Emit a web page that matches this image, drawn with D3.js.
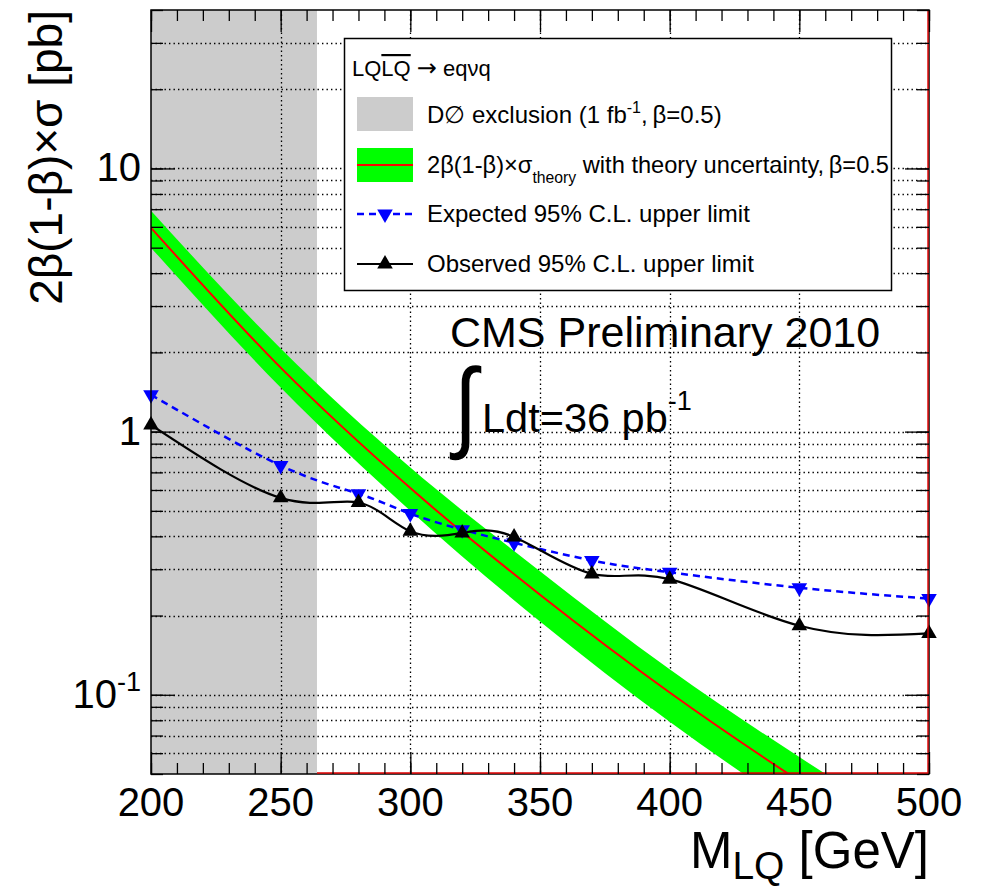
<!DOCTYPE html>
<html>
<head>
<meta charset="utf-8">
<script src="https://cdn.jsdelivr.net/npm/d3@7"></script>
<style>
  body { margin: 0; background: #fff; }
  svg { display: block; }
  text { font-family: "Liberation Sans", Arial, Helvetica, sans-serif; fill: #000; }
</style>
</head>
<body>
<script>
// Leptoquark mass points (GeV) and 95% C.L. upper limits on 2β(1-β)×σ (pb)
const massPoints    = [200, 250, 280, 300, 320, 340, 370, 400, 450, 500];
const expectedLimit = [1.38, 0.743, 0.581, 0.488, 0.424, 0.378, 0.324, 0.292, 0.255, 0.232];
const observedLimit = [1.06, 0.560, 0.538, 0.418, 0.412, 0.398, 0.288, 0.275, 0.183, 0.171];

// Theory prediction (β = 0.5) with its uncertainty band
const theoryMass = [200, 250, 300, 350, 400, 450, 500];
const theoryXsec = [5.95, 1.75, 0.61, 0.24, 0.102, 0.047, 0.023];
const theoryUp   = [6.9, 2.07, 0.73, 0.295, 0.125, 0.058, 0.0285];
const theoryDown = [5.0, 1.47, 0.50, 0.19, 0.079, 0.036, 0.0175];

// DØ excluded mass range (GeV)
const d0Exclusion = [200, 264];

// Axis ranges and labelled ticks
const xDomain = [200, 500];
const yDomain = [0.05, 40];
const xTickLabels = [200, 250, 300, 350, 400, 450, 500];
const yTickLabels = [
  { v: 10,  base: "10", sup: "" },
  { v: 1,   base: "1",  sup: "" },
  { v: 0.1, base: "10", sup: "-1" }
];

const W = 982, H = 892;
const frame = { left: 151, right: 929, top: 10, bottom: 774 };

const svg = d3.select("body").append("svg")
  .attr("width", W).attr("height", H);

const x = d3.scaleLinear().domain(xDomain).range([frame.left, frame.right]);
const y = d3.scaleLog().domain(yDomain).range([frame.bottom, frame.top]);

svg.append("defs").append("clipPath").attr("id", "plotClip")
  .append("rect")
  .attr("x", frame.left).attr("y", frame.top)
  .attr("width", frame.right - frame.left).attr("height", frame.bottom - frame.top);

const plot = svg.append("g").attr("clip-path", "url(#plotClip)");

// DØ exclusion region
plot.append("rect")
  .attr("x", x(d0Exclusion[0])).attr("y", frame.top)
  .attr("width", x(d0Exclusion[1]) - x(d0Exclusion[0]))
  .attr("height", frame.bottom - frame.top)
  .attr("fill", "#cccccc");

// Dotted grid
const yGridVals = y.ticks().filter(v => v > yDomain[0] && v < yDomain[1]);
const xGridVals = xTickLabels.filter(v => v > xDomain[0] && v < xDomain[1]);
const grid = plot.append("g").attr("stroke", "#000").attr("stroke-width", 1.3)
  .attr("stroke-dasharray", "1.4,3.1");
grid.selectAll("line.h").data(yGridVals).join("line").attr("class", "h")
  .attr("x1", frame.left).attr("x2", frame.right)
  .attr("y1", d => Math.round(y(d)) + 0.5).attr("y2", d => Math.round(y(d)) + 0.5);
grid.selectAll("line.v").data(xGridVals).join("line").attr("class", "v")
  .attr("y1", frame.top).attr("y2", frame.bottom)
  .attr("x1", d => Math.round(x(d)) + 0.5).attr("x2", d => Math.round(x(d)) + 0.5);

// Theory band and central curve
const theory = theoryMass.map((m, i) => ({ m, c: theoryXsec[i], up: theoryUp[i], dn: theoryDown[i] }));
plot.append("path").datum(theory)
  .attr("fill", "#00ff00")
  .attr("d", d3.area().curve(d3.curveMonotoneX)
    .x(d => x(d.m)).y0(d => y(d.dn)).y1(d => y(d.up)));
plot.append("path").datum(theory)
  .attr("fill", "none").attr("stroke", "#ff0000").attr("stroke-width", 2)
  .attr("d", d3.line().curve(d3.curveMonotoneX).x(d => x(d.m)).y(d => y(d.c)));

// Expected and observed limits
const expected = massPoints.map((m, i) => ({ m, v: expectedLimit[i] }));
const observed = massPoints.map((m, i) => ({ m, v: observedLimit[i] }));
const limitLine = d3.line().curve(d3.curveNatural).x(d => x(d.m)).y(d => y(d.v));

plot.append("path").datum(expected)
  .attr("fill", "none").attr("stroke", "#0000ff").attr("stroke-width", 2.5)
  .attr("stroke-dasharray", "7,5").attr("d", limitLine);
plot.append("path").datum(observed)
  .attr("fill", "none").attr("stroke", "#000").attr("stroke-width", 2.2)
  .attr("d", limitLine);

const tri = d3.symbol().type(d3.symbolTriangle).size(105);
svg.append("g").selectAll("path").data(expected).join("path")
  .attr("fill", "#0000ff")
  .attr("transform", d => `translate(${x(d.m)},${y(d.v)}) rotate(180)`)
  .attr("d", tri);
svg.append("g").selectAll("path").data(observed).join("path")
  .attr("fill", "#000")
  .attr("transform", d => `translate(${x(d.m)},${y(d.v)})`)
  .attr("d", tri);

// Frame
svg.append("rect")
  .attr("x", frame.left).attr("y", frame.top)
  .attr("width", frame.right - frame.left).attr("height", frame.bottom - frame.top)
  .attr("fill", "none").attr("stroke", "#000").attr("stroke-width", 1.5);
svg.append("path")
  .attr("d", `M${x(d0Exclusion[1])},${frame.bottom - 1}H${frame.right - 1}V${frame.top}`)
  .attr("fill", "none").attr("stroke", "#e00000").attr("stroke-width", 1.4);

// Ticks on all four sides, drawn inward
const xMinor = d3.range(xDomain[0], xDomain[1] + 1, 10);
const yMinor = y.ticks();
const yMajor = yTickLabels.map(d => d.v);
function tickStyle(g) {
  g.select(".domain").remove();
  g.selectAll("line").attr("stroke", "#000").attr("stroke-width", 1.3);
  g.selectAll("text").remove();
}
svg.append("g").attr("transform", `translate(0,${frame.bottom})`)
  .call(d3.axisBottom(x).tickValues(xMinor).tickSize(-11)).call(tickStyle);
svg.append("g").attr("transform", `translate(0,${frame.bottom})`)
  .call(d3.axisBottom(x).tickValues(xTickLabels).tickSize(-22)).call(tickStyle);
svg.append("g").attr("transform", `translate(0,${frame.top})`)
  .call(d3.axisTop(x).tickValues(xMinor).tickSize(-11)).call(tickStyle);
svg.append("g").attr("transform", `translate(0,${frame.top})`)
  .call(d3.axisTop(x).tickValues(xTickLabels).tickSize(-22)).call(tickStyle);
svg.append("g").attr("transform", `translate(${frame.left},0)`)
  .call(d3.axisLeft(y).tickValues(yMinor).tickSize(-12)).call(tickStyle);
svg.append("g").attr("transform", `translate(${frame.left},0)`)
  .call(d3.axisLeft(y).tickValues(yMajor).tickSize(-24)).call(tickStyle);
svg.append("g").attr("transform", `translate(${frame.right},0)`)
  .call(d3.axisRight(y).tickValues(yMinor).tickSize(-12)).call(tickStyle);
svg.append("g").attr("transform", `translate(${frame.right},0)`)
  .call(d3.axisRight(y).tickValues(yMajor).tickSize(-24)).call(tickStyle);

// Tick labels
svg.append("g").selectAll("text").data(xTickLabels).join("text")
  .attr("x", d => x(d)).attr("y", 816)
  .attr("text-anchor", "middle").attr("font-size", 40)
  .text(d => d);

const yl = svg.append("g").selectAll("text").data(yTickLabels).join("text")
  .attr("x", 141).attr("y", d => y(d.v) + 13)
  .attr("text-anchor", "end").attr("font-size", 40);
yl.append("tspan").text(d => d.base);
yl.filter(d => d.sup).append("tspan")
  .attr("font-size", 27).attr("dy", -17).text(d => d.sup);

// Axis titles
const xt = svg.append("text").attr("x", frame.right).attr("y", 868)
  .attr("text-anchor", "end").attr("font-size", 51);
xt.append("tspan").text("M");
xt.append("tspan").attr("font-size", 39).attr("dy", 11).text("LQ");
xt.append("tspan").attr("dy", -11).text(" [GeV]");

svg.append("text")
  .attr("transform", `translate(62,${frame.top}) rotate(-90)`)
  .attr("text-anchor", "end").attr("font-size", 46)
  .text("2β(1-β)×σ [pb]");

// Annotations
svg.append("text").attr("x", 450).attr("y", 347).attr("font-size", 43)
  .text("CMS Preliminary 2010");
svg.append("text").attr("transform", "translate(454,439) scale(0.85,1)")
  .attr("font-family", "DejaVu Sans").attr("font-size", 100)
  .text("∫");
const lumi = svg.append("text").attr("x", 482).attr("y", 432).attr("font-size", 41.5);
lumi.append("tspan").text("Ldt=36 pb");
lumi.append("tspan").attr("font-size", 27).attr("dy", -22).text("-1");

// Legend
const lg = svg.append("g");
lg.append("rect").attr("x", 344.5).attr("y", 38.5).attr("width", 547).attr("height", 252)
  .attr("fill", "#fff").attr("stroke", "#000").attr("stroke-width", 1.5);

const hdr = lg.append("text").attr("x", 352).attr("y", 76).attr("font-size", 22);
hdr.append("tspan").text("LQ");
hdr.append("tspan").attr("text-decoration", "overline").text("LQ");
hdr.append("tspan").text(" ");
hdr.append("tspan").attr("font-family", "DejaVu Sans").attr("font-size", 24).text("→");
hdr.append("tspan").text(" eqνq");

const swX = 357, swW = 56, txX = 427, lfs = 24;
lg.append("rect").attr("x", swX).attr("y", 97).attr("width", swW).attr("height", 34).attr("fill", "#cccccc");
const t1 = lg.append("text").attr("x", txX).attr("y", 123).attr("font-size", lfs);
t1.append("tspan").text("D∅ exclusion (1 fb");
t1.append("tspan").attr("font-size", 16).attr("dy", -10).text("-1");
t1.append("tspan").attr("dy", 10).text(",\u2009β=0.5)");

lg.append("rect").attr("x", swX).attr("y", 148).attr("width", swW).attr("height", 34).attr("fill", "#00ff00");
lg.append("line").attr("x1", swX).attr("x2", swX + swW).attr("y1", 165).attr("y2", 165)
  .attr("stroke", "#ff0000").attr("stroke-width", 2);
const t2 = lg.append("text").attr("x", txX).attr("y", 173).attr("font-size", lfs)
  .attr("textLength", 462).attr("lengthAdjust", "spacingAndGlyphs");
t2.append("tspan").text("2β(1-β)×σ");
t2.append("tspan").attr("font-size", 16).attr("dy", 10).text("theory");
t2.append("tspan").attr("dy", -10).text(" with theory uncertainty,\u2009β=0.5");

lg.append("line").attr("x1", swX).attr("x2", swX + swW).attr("y1", 214).attr("y2", 214)
  .attr("stroke", "#0000ff").attr("stroke-width", 2.5).attr("stroke-dasharray", "7,5");
lg.append("path").attr("fill", "#0000ff")
  .attr("transform", `translate(${swX + swW / 2},214) rotate(180)`).attr("d", tri);
lg.append("text").attr("x", txX).attr("y", 222).attr("font-size", lfs)
  .text("Expected 95% C.L. upper limit");

lg.append("line").attr("x1", swX).attr("x2", swX + swW).attr("y1", 264).attr("y2", 264)
  .attr("stroke", "#000").attr("stroke-width", 2.2);
lg.append("path").attr("fill", "#000")
  .attr("transform", `translate(${swX + swW / 2},264)`).attr("d", tri);
lg.append("text").attr("x", txX).attr("y", 272).attr("font-size", lfs)
  .text("Observed 95% C.L. upper limit");
</script>
</body>
</html>
